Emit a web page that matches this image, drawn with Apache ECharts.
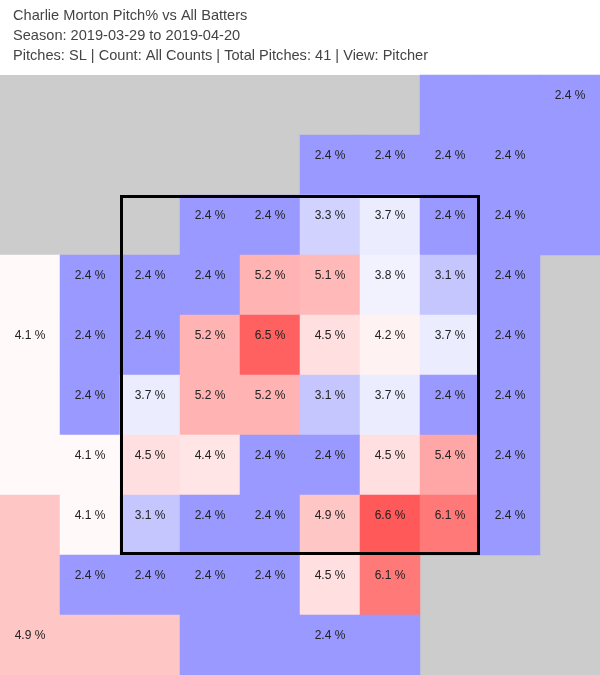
<!DOCTYPE html>
<html>
<head>
<meta charset="utf-8">
<script src="https://cdn.jsdelivr.net/npm/echarts@6/dist/echarts.min.js"></script>
<style>
  html, body { margin: 0; padding: 0; background: #fff; }
  #chart { width: 600px; height: 675px; }
</style>
</head>
<body>
<div id="chart"></div>
<script>
// titel regels
const titleLines = [
    'Charlie Morton Pitch% vs All Batters',
    'Season: 2019-03-29 to 2019-04-20',
    'Pitches: SL | Count: All Counts | Total Pitches: 41 | View: Pitcher'
]

// kolommen links -> rechts, rijen boven -> onder
const cols = ['0', '1', '2', '3', '4', '5', '6', '7', '8', '9']
const rows = ['0', '1', '2', '3', '4', '5', '6', '7', '8', '9']

// pitch% per vak, null = geen pitches (grijs)
const row0 = [null, null, null, null, null, null, null, 2.4, 2.4, 2.4]
const row1 = [null, null, null, null, null, 2.4, 2.4, 2.4, 2.4, 2.4]
const row2 = [null, null, null, 2.4, 2.4, 3.3, 3.7, 2.4, 2.4, 2.4]
const row3 = [4.1, 2.4, 2.4, 2.4, 5.2, 5.1, 3.8, 3.1, 2.4, null]
const row4 = [4.1, 2.4, 2.4, 5.2, 6.5, 4.5, 4.2, 3.7, 2.4, null]
const row5 = [4.1, 2.4, 3.7, 5.2, 5.2, 3.1, 3.7, 2.4, 2.4, null]
const row6 = [4.1, 4.1, 4.5, 4.4, 2.4, 2.4, 4.5, 5.4, 2.4, null]
const row7 = [4.9, 4.1, 3.1, 2.4, 2.4, 4.9, 6.6, 6.1, 2.4, null]
const row8 = [4.9, 2.4, 2.4, 2.4, 2.4, 4.5, 6.1, null, null, null]
const row9 = [4.9, 4.9, 4.9, 2.4, 2.4, 2.4, 2.4, null, null, null]
const pct = [row0, row1, row2, row3, row4, row5, row6, row7, row8, row9]

// vakken van de buitenzones zonder tekst [rij, kolom]
const quietCells = [
    [0, 7], [0, 8], [1, 9], [2, 9],
    [3, 0], [5, 0], [6, 0],
    [7, 0], [8, 0], [9, 1], [9, 2],
    [9, 3], [9, 4], [9, 6]
]

// strike zone in vakken
const zoneCols = [2, 7]
const zoneRows = [2, 7]

function isQuiet(r, c) {
    for (let q of quietCells) {
        if (q[0] === r && q[1] === c) return true
    }
    return false
}

let data = []
for (let r = 0; r < pct.length; r++) {
    for (let c = 0; c < pct[r].length; c++) {
        if (pct[r][c] === null) continue
        data.push({
            value: [c, r, pct[r][c]],
            label: {show: !isQuiet(r, c)}
        })
    }
}

let chart = echarts.init(document.getElementById('chart'))

chart.setOption({
    animation: false,
    title: {
        text: titleLines.join('\n'),
        left: 8,
        top: 1,
        textStyle: {
            fontFamily: 'Liberation Sans',
            fontSize: 14.6,
            fontWeight: 'normal',
            color: '#444',
            lineHeight: 20
        }
    },
    grid: {
        left: 0, right: 0, top: 75, bottom: 0,
        show: true,
        backgroundColor: '#cccccc',
        borderWidth: 0
    },
    xAxis: {
        type: 'category',
        data: cols,
        show: false
    },
    yAxis: {
        type: 'category',
        data: rows,
        inverse: true,
        show: false
    },
    visualMap: {
        show: false,
        min: 0,
        max: 8,
        dimension: 2,
        inRange: {color: ['#0000ff', '#ffffff', '#ff0000']}
    },
    series: [{
        type: 'heatmap',
        data: data,
        itemStyle: {borderWidth: 0},
        emphasis: {disabled: true},
        label: {
            show: true,
            offset: [0, -9.5],
            fontFamily: 'Liberation Sans',
            fontSize: 12,
            color: '#222',
            formatter: p => p.value[2].toFixed(1) + ' %'
        }
    }]
})

// strike zone kader uit de assen berekenen
const a = chart.convertToPixel({xAxisIndex: 0}, zoneCols[0])
const b = chart.convertToPixel({xAxisIndex: 0}, zoneCols[1])
const t = chart.convertToPixel({yAxisIndex: 0}, zoneRows[0])
const u = chart.convertToPixel({yAxisIndex: 0}, zoneRows[1])
const cw = (b - a) / (zoneCols[1] - zoneCols[0])
const ch = (u - t) / (zoneRows[1] - zoneRows[0])
const lw = 3
const x0 = a - cw / 2, x1 = b + cw / 2
const y0 = t - ch / 2, y1 = u + ch / 2

chart.setOption({
    graphic: [{
        type: 'rect',
        z: 100,
        zlevel: 1,
        shape: {
            x: x0 + lw / 2,
            y: y0 + lw / 2,
            width: x1 - x0 - lw,
            height: y1 - y0 - lw
        },
        style: {fill: 'none', stroke: '#000', lineWidth: lw},
        silent: true
    }]
})
</script>
</body>
</html>
